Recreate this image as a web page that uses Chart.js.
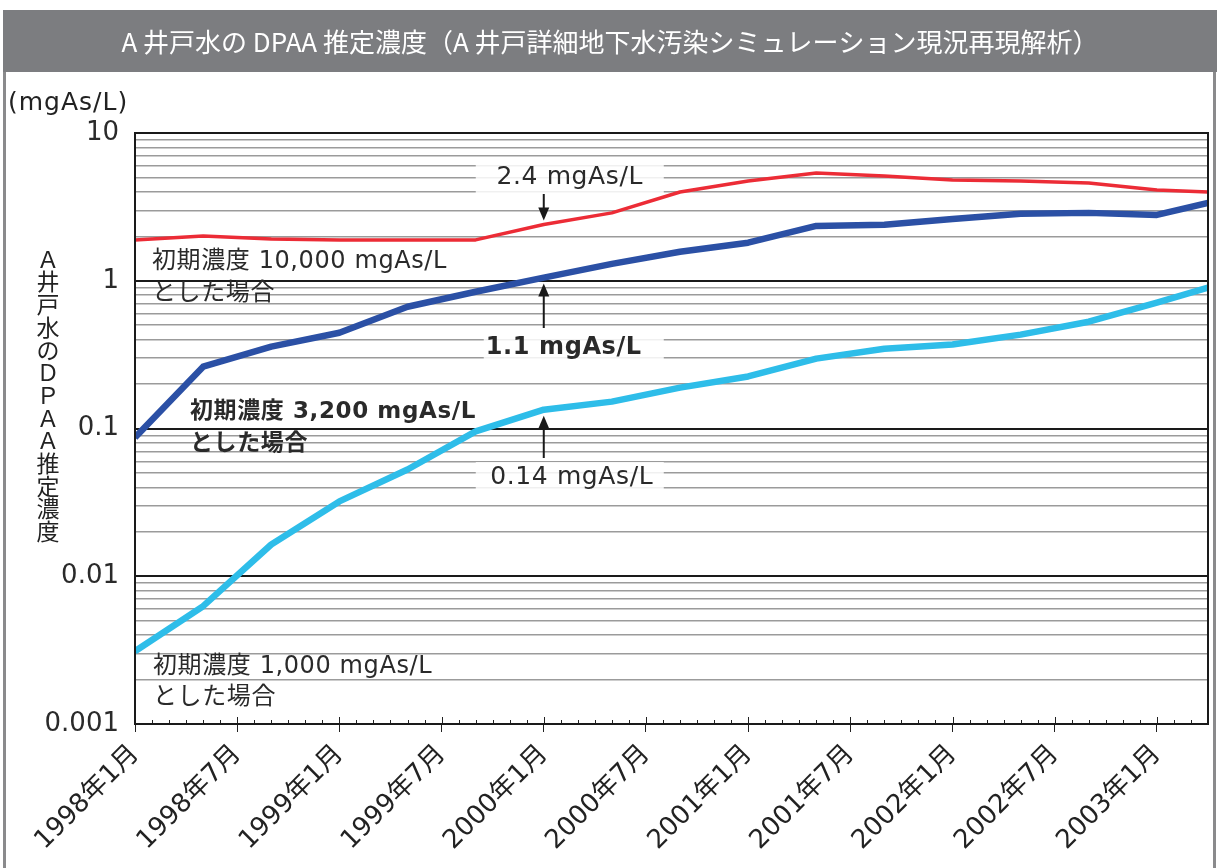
<!DOCTYPE html>
<html lang="ja">
<head>
<meta charset="utf-8">
<title>A井戸水のDPAA推定濃度</title>
<script src="https://cdn.jsdelivr.net/npm/chart.js@4.4.1/dist/chart.umd.min.js"></script>
<style>
  html, body { margin: 0; padding: 0; background: #fff; }
  #chart { display: block; }
</style>
</head>
<body>
<canvas id="chart" width="1217" height="868"></canvas>
<script>
// months since 1998年1月
const months = [0, 4, 8, 12, 16, 20, 24, 28, 32, 36, 40, 44, 48, 52, 56, 60, 63];

// estimated DPAA concentration (mgAs/L)
const conc10000 = [1.89, 2.01, 1.92, 1.89, 1.89, 1.89, 2.4, 2.88, 3.99, 4.74, 5.37, 5.12, 4.81, 4.74, 4.59, 4.12, 3.99];
const conc3200 = [0.087, 0.262, 0.358, 0.445, 0.667, 0.843, 1.05, 1.30, 1.57, 1.81, 2.35, 2.39, 2.62, 2.84, 2.88, 2.79, 3.37];
const conc1000 = [0.00311, 0.00627, 0.0164, 0.0321, 0.0528, 0.0955, 0.134, 0.152, 0.189, 0.225, 0.297, 0.347, 0.370, 0.432, 0.528, 0.710, 0.897];

const xTickMonths = [0, 6, 12, 18, 24, 30, 36, 42, 48, 54, 60];
const xTickLabels = ["1998年1月", "1998年7月", "1999年1月", "1999年7月", "2000年1月", "2000年7月",
  "2001年1月", "2001年7月", "2002年1月", "2002年7月", "2003年1月"];

const yTickValues = [];
[0.001, 0.01, 0.1, 1].forEach((d) => {
  for (let k = 1; k < 10; k++) yTickValues.push(+(d * k).toPrecision(3));
});
yTickValues.push(10);
const yMajorValues = [0.001, 0.01, 0.1, 1, 10];
const yMajorLabels = ["0.001", "0.01", "0.1", "1", "10"];

const title = "A 井戸水の DPAA 推定濃度（A 井戸詳細地下水汚染シミュレーション現況再現解析）";
const yTitle = ["Ａ", "井", "戸", "水", "の", "Ｄ", "Ｐ", "Ａ", "Ａ", "推", "定", "濃", "度"];

const FONT = '"DejaVu Sans", "Noto Sans CJK JP", sans-serif';
const CJK = '"Noto Sans CJK JP", sans-serif';

function toPoints(vals) {
  return months.map((m, i) => ({ x: m, y: vals[i] }));
}

function isMajor(v) {
  return yMajorValues.some((d) => Math.abs(v - d) / d < 1e-6);
}

const decorations = {
  id: "decorations",
  beforeDraw(chart) {
    const ctx = chart.ctx;
    ctx.save();
    ctx.fillStyle = "#fff";
    ctx.fillRect(0, 0, chart.width, chart.height);
    // title bar
    ctx.fillStyle = "#7c7d80";
    ctx.fillRect(3, 10, chart.width - 3, 62);
    ctx.fillStyle = "#fff";
    ctx.font = "26px " + CJK;
    ctx.textAlign = "center";
    ctx.textBaseline = "middle";
    ctx.fillText(title, 610, 42);
    // frame
    ctx.strokeStyle = "#8a8a8c";
    ctx.lineWidth = 3;
    ctx.beginPath();
    ctx.moveTo(4.5, 72);
    ctx.lineTo(4.5, chart.height);
    ctx.moveTo(1214.5, 72);
    ctx.lineTo(1214.5, chart.height);
    ctx.stroke();
    ctx.restore();
  },
  beforeDatasetsDraw(chart) {
    const ctx = chart.ctx;
    const x = chart.scales.x.getPixelForValue(24);
    ctx.save();
    ctx.fillStyle = "rgba(255,255,255,0.85)";
    ctx.fillRect(x - 68, 160, 188, 33);
    ctx.fillRect(x - 60, 334, 180, 29);
    ctx.fillRect(x - 68, 462, 188, 30);
    ctx.restore();
  },
  afterDatasetsDraw(chart) {
    const ctx = chart.ctx;
    const xs = chart.scales.x;
    const ys = chart.scales.y;
    const area = chart.chartArea;
    ctx.save();

    // x axis minor / major tick marks inside the plot
    ctx.strokeStyle = "#222";
    ctx.lineWidth = 1;
    ctx.beginPath();
    for (let m = 0; m <= 63; m++) {
      const px = Math.round(xs.getPixelForValue(m)) + 0.5;
      const len = m % 6 === 0 ? 7 : 4;
      ctx.moveTo(px, area.bottom);
      ctx.lineTo(px, area.bottom - len);
    }
    ctx.stroke();

    // plot frame
    ctx.strokeStyle = "#1a1a1a";
    ctx.lineWidth = 2;
    ctx.strokeRect(area.left, area.top, area.right - area.left, area.bottom - area.top);

    // unit
    ctx.fillStyle = "#222";
    ctx.font = "25px " + FONT;
    ctx.textAlign = "left";
    ctx.textBaseline = "middle";
    ctx.letterSpacing = "1px";
    ctx.fillText("(mgAs/L)", 8, 103);
    ctx.letterSpacing = "0px";

    // vertical y title
    ctx.font = "23px " + CJK;
    ctx.textAlign = "center";
    yTitle.forEach((c, i) => ctx.fillText(c, 48, 259 + i * 22.7));

    // series labels
    ctx.textAlign = "left";
    ctx.fillStyle = "#2a2a2a";
    ctx.font = "24px " + FONT;
    ctx.letterSpacing = "0.6px";
    ctx.fillText("初期濃度 10,000 mgAs/L", 152, 262);
    ctx.fillText("とした場合", 152, 294);
    ctx.fillText("初期濃度 1,000 mgAs/L", 153, 667);
    ctx.fillText("とした場合", 153, 698);
    ctx.font = "bold 23px " + FONT;
    ctx.fillText("初期濃度 3,200 mgAs/L", 190, 412);
    ctx.fillText("とした場合", 190, 444);

    // callouts at 2000年1月
    const x = xs.getPixelForValue(24);
    const i24 = months.indexOf(24);
    ctx.textAlign = "center";
    ctx.font = "25px " + FONT;
    ctx.fillText(conc10000[i24].toFixed(1) + " mgAs/L", x + 26, 177);
    ctx.font = "bold 24px " + FONT;
    ctx.fillText("1.1 mgAs/L", x + 20, 348);
    ctx.font = "25px " + FONT;
    ctx.fillText("0.14 mgAs/L", x + 28, 477);
    ctx.letterSpacing = "0px";

    function arrow(x0, yFrom, yTo) {
      const dir = yTo > yFrom ? 1 : -1;
      ctx.strokeStyle = "#1a1a1a";
      ctx.fillStyle = "#1a1a1a";
      ctx.lineWidth = 2;
      ctx.beginPath();
      ctx.moveTo(x0, yFrom);
      ctx.lineTo(x0, yTo - dir * 10);
      ctx.stroke();
      ctx.beginPath();
      ctx.moveTo(x0, yTo);
      ctx.lineTo(x0 - 5.5, yTo - dir * 13);
      ctx.lineTo(x0 + 5.5, yTo - dir * 13);
      ctx.closePath();
      ctx.fill();
    }
    arrow(x, 194, ys.getPixelForValue(conc10000[i24]) - 4);
    arrow(x, 328, ys.getPixelForValue(conc3200[i24]) + 6);
    arrow(x, 458, ys.getPixelForValue(conc1000[i24]) + 6);

    ctx.restore();
  }
};

new Chart(document.getElementById("chart"), {
  type: "line",
  data: {
    datasets: [
      { label: "初期濃度 10,000 mgAs/L", data: toPoints(conc10000), borderColor: "#ec2c36", borderWidth: 3.5 },
      { label: "初期濃度 3,200 mgAs/L", data: toPoints(conc3200), borderColor: "#2b50a5", borderWidth: 6.5 },
      { label: "初期濃度 1,000 mgAs/L", data: toPoints(conc1000), borderColor: "#2ebde9", borderWidth: 6.5 },
    ],
  },
  options: {
    responsive: false,
    animation: false,
    devicePixelRatio: 1,
    layout: { padding: { left: 0, right: 9, top: 133, bottom: 0 } },
    elements: {
      point: { radius: 0, hoverRadius: 0 },
      line: { tension: 0, borderJoinStyle: "round", borderCapStyle: "butt" },
    },
    plugins: {
      legend: { display: false },
      tooltip: { enabled: false },
    },
    scales: {
      x: {
        type: "linear",
        min: 0,
        max: 63,
        afterBuildTicks(scale) {
          scale.ticks = xTickMonths.map((m) => ({ value: m }));
        },
        afterFit(scale) {
          scale.height = 144;
        },
        ticks: {
          autoSkip: false,
          maxRotation: 45,
          minRotation: 45,
          padding: 7,
          color: "#222",
          font: { family: FONT, size: 26 },
          callback: (v, i) => xTickLabels[i],
        },
        grid: { display: true, drawOnChartArea: false, drawTicks: true, tickLength: 8, color: "#222", lineWidth: 1 },
        border: { display: false },
      },
      y: {
        type: "logarithmic",
        min: 0.001,
        max: 10,
        afterBuildTicks(scale) {
          scale.ticks = yTickValues.map((v) => ({ value: v }));
        },
        afterFit(scale) {
          scale.width = 135;
        },
        ticks: {
          autoSkip: false,
          padding: 16,
          color: "#2a2a2a",
          font: { family: FONT, size: 26 },
          callback: (v) => {
            const k = yMajorValues.findIndex((d) => Math.abs(v - d) / d < 1e-6);
            return k >= 0 ? yMajorLabels[k] : "";
          },
        },
        grid: {
          drawTicks: false,
          color: (c) => (c.tick && isMajor(c.tick.value) ? "#1a1a1a" : "#9b9b9b"),
          lineWidth: (c) => (c.tick && isMajor(c.tick.value) ? 2 : 1.5),
        },
        border: { display: false },
      },
    },
  },
  plugins: [decorations],
});
</script>
</body>
</html>
